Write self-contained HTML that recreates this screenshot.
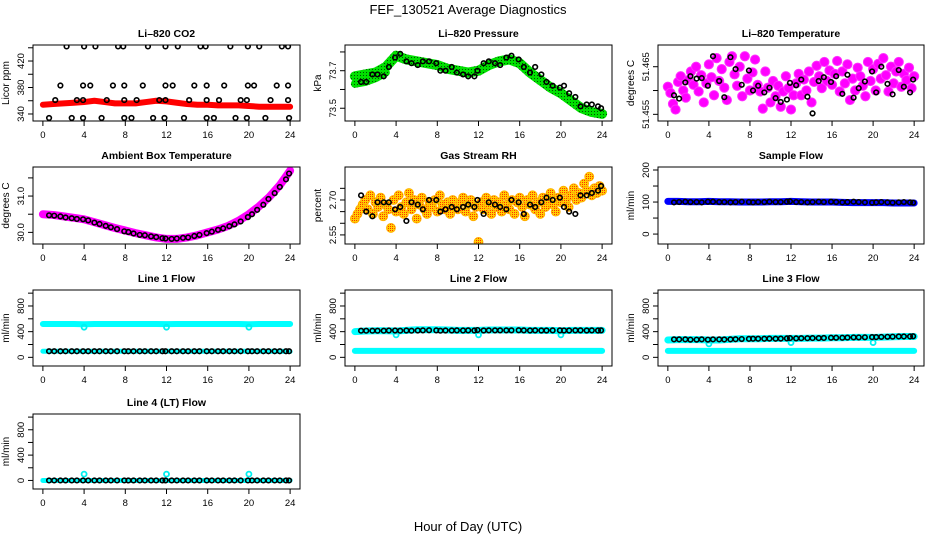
<!DOCTYPE html>
<html><head><meta charset="utf-8">
<style>
html,body{margin:0;padding:0;background:#fff;}
svg{display:block;font-family:"Liberation Sans",sans-serif;}
</style></head>
<body>
<svg id="chart" width="936" height="540" viewBox="0 0 936 540" xmlns="http://www.w3.org/2000/svg">
<defs>
<pattern id="pGreen" width="3" height="3" patternUnits="userSpaceOnUse"><rect width="3" height="3" fill="#00e000"/><rect width="1" height="1" fill="#005000"/></pattern>
<pattern id="pOrange" width="2" height="2" patternUnits="userSpaceOnUse"><rect width="2" height="2" fill="#ffd000"/><rect width="1" height="1" fill="#ff3000"/></pattern>
</defs>
<text x="468" y="14" text-anchor="middle" font-size="13">FEF_130521  Average Diagnostics</text>
<text x="468" y="531" text-anchor="middle" font-size="13">Hour of Day (UTC)</text>
</svg>
<script>
// ---- data ----
const xTicks = [0,4,8,12,16,20,24];
const bandHours = [0,1,2,3,4,5,6,7,8,9,10,11,12,13,14,15,16,17,18,19,20,21,22,23,24];
const blackHours = [0.6,1.1,1.7,2.2,2.8,3.3,3.9,4.4,5.0,5.5,6.1,6.6,7.2,7.9,8.3,8.8,9.4,9.9,10.5,11.0,11.6,11.9,12.5,13.0,13.6,14.1,14.7,15.2,15.9,16.4,17.0,17.5,18.1,18.6,19.2,19.9,20.3,20.8,21.4,21.9,22.5,23.0,23.6,23.9];

const co2Band = [354,355,356,357,358,360,358,356,356,356,358,360,359,357,355,354,354,353,353,353,352,351,351,351,351];
const co2TopHours = [2.3,4.0,5.1,7.3,7.8,10.2,11.9,13.1,15.3,15.8,18.2,19.9,21.0,23.2,23.8];
const co2HighHours = [1.7,3.9,4.6,6.8,7.9,9.7,11.9,12.6,14.7,15.9,17.6,19.9,20.5,22.7,23.8];
const co2MidHours = [1.2,3.3,3.9,6.2,7.9,9.1,11.3,11.9,14.2,15.9,17.1,19.2,19.8,22.1,23.8];
const co2LowHours = [0.6,2.8,3.9,5.7,7.9,8.6,10.7,11.8,13.7,15.9,16.6,18.7,19.8,21.6,23.9];
const co2Levels = [442,383,361,334];

const pressBand = [73.67,73.68,73.69,73.72,73.78,73.76,73.75,73.74,73.73,73.71,73.70,73.69,73.70,73.73,73.75,73.76,73.74,73.69,73.65,73.61,73.58,73.54,73.50,73.48,73.47];
const pressBand2Hours = [0,1,2,3];
const pressBand2 = [73.63,73.64,73.66,73.69];
const pressBlack = [73.64,73.64,73.68,73.68,73.67,73.72,73.77,73.79,73.75,73.74,73.73,73.75,73.75,73.74,73.70,73.70,73.72,73.69,73.68,73.67,73.67,73.70,73.74,73.75,73.74,73.73,73.77,73.78,73.76,73.72,73.69,73.72,73.68,73.64,73.62,73.61,73.62,73.58,73.56,73.51,73.52,73.52,73.51,73.50];

const tempScatter = [51.4608,51.4595,51.4572,51.4560,51.4618,51.4630,51.4600,51.4585,51.4622,51.4640,51.4612,51.4650,51.4598,51.4632,51.4575,51.4615,51.4655,51.4628,51.4590,51.4668,
51.4620,51.4645,51.4606,51.4580,51.4660,51.4672,51.4634,51.4610,51.4650,51.4588,51.4672,51.4625,51.4600,51.4638,51.4665,51.4612,51.4598,51.4562,51.4640,51.4606,
51.4575,51.4620,51.4588,51.4610,51.4566,51.4598,51.4630,51.4605,51.4560,51.4590,51.4615,51.4635,51.4590,51.4623,51.4600,51.4640,51.4575,51.4618,51.4652,51.4630,
51.4605,51.4660,51.4620,51.4642,51.4612,51.4635,51.4662,51.4598,51.4640,51.4615,51.4655,51.4580,51.4625,51.4600,51.4648,51.4630,51.4610,51.4588,51.4660,51.4620,
51.4645,51.4600,51.4656,51.4625,51.4668,51.4632,51.4598,51.4650,51.4615,51.4640,51.4660,51.4608,51.4635,51.4622,51.4648,51.4605,51.4630];
const tempBlack = [51.4590,51.4583,51.4617,51.4630,51.4625,51.4626,51.4610,51.4672,51.4620,51.4586,51.4670,51.4645,51.4612,51.4642,51.4600,51.4610,51.4596,51.4606,51.4584,51.4576,51.4581,51.4616,51.4611,51.4623,51.4587,51.4552,51.4620,51.4628,51.4618,51.4630,51.4593,51.4633,51.4585,51.4605,51.4619,51.4640,51.4596,51.4650,51.4614,51.4592,51.4643,51.4608,51.4596,51.4623];

const ambBand = [30.50,30.48,30.44,30.40,30.36,30.28,30.20,30.12,30.05,29.98,29.92,29.86,29.82,29.82,29.86,29.92,30.00,30.08,30.18,30.32,30.50,30.72,30.98,31.30,31.70];
const ambBlack = [30.47,30.46,30.44,30.41,30.39,30.37,30.36,30.33,30.27,30.23,30.18,30.14,30.09,30.03,30.01,29.97,29.93,29.92,29.89,29.87,29.84,29.83,29.82,29.83,29.85,29.86,29.90,29.93,29.98,30.02,30.07,30.11,30.17,30.22,30.30,30.42,30.50,30.62,30.76,30.92,31.08,31.25,31.46,31.62];

const rhScatter = [2.62,2.64,2.66,2.68,2.70,2.66,2.72,2.64,2.69,2.67,2.71,2.63,2.68,2.66,2.58,2.70,2.65,2.72,2.67,2.64,
2.69,2.73,2.66,2.70,2.62,2.68,2.71,2.66,2.64,2.69,2.67,2.70,2.65,2.72,2.68,2.66,2.69,2.64,2.70,2.67,
2.66,2.69,2.71,2.65,2.68,2.70,2.63,2.67,2.52,2.69,2.66,2.71,2.68,2.64,2.70,2.67,2.69,2.65,2.72,2.68,
2.66,2.70,2.64,2.69,2.71,2.67,2.63,2.70,2.68,2.72,2.66,2.69,2.64,2.71,2.67,2.70,2.73,2.68,2.65,2.71,
2.69,2.74,2.70,2.67,2.72,2.75,2.70,2.73,2.71,2.77,2.74,2.80,2.72,2.75,2.73,2.76,2.74];
const rhBlack = [2.72,2.65,2.63,2.69,2.69,2.69,2.66,2.67,2.61,2.69,2.68,2.66,2.70,2.70,2.65,2.66,2.67,2.66,2.67,2.68,2.67,2.70,2.64,2.69,2.68,2.67,2.66,2.70,2.69,2.64,2.68,2.67,2.69,2.71,2.70,2.71,2.67,2.65,2.64,2.72,2.72,2.73,2.74,2.76];

const sampleBand = [102,102,101,101,102,101,101,100,100,100,101,101,102,101,100,100,100,99,98,98,98,98,97,97,97];
const sampleBlack = [99,100,101,100,100,99,101,101,100,100,99,100,101,100,99,100,100,101,100,100,101,102,100,100,99,100,101,100,101,100,99,100,101,100,99,98,99,100,99,98,99,100,99,98];

const l1CyanHigh = [520,520,520,520,515,520,520,520,520,520,520,520,518,520,520,520,520,520,520,520,515,520,520,520,520];
const l1CyanLow = [95,95,95,95,95,95,95,95,95,95,95,95,95,95,95,95,95,95,95,95,95,95,95,95,90];
const l1Black = [95,95,95,95,95,95,95,95,95,95,95,95,95,95,95,95,95,95,95,95,95,95,95,95,95,95,95,95,95,95,95,95,95,95,95,95,95,95,95,95,95,95,95,95];
const spikeHours = [4,12,20];
const l1Spikes = [470,470,470];

const l2CyanHigh = [400,410,415,415,410,420,430,430,430,425,420,420,420,425,425,425,425,420,420,420,415,420,420,420,420];
const l2CyanLow = [100,100,100,100,100,100,100,100,100,100,100,100,100,100,100,100,100,100,100,100,100,100,100,100,100];
const l2Black = [415,415,415,415,415,418,418,415,418,415,418,420,422,420,415,418,418,420,418,420,418,425,418,420,420,420,420,420,422,420,418,420,418,418,420,420,418,418,420,420,418,420,418,420];
const l2Spikes = [350,350,350];

const l3CyanHigh = [270,275,275,275,270,270,280,290,290,290,295,295,295,295,300,300,305,305,310,310,310,315,320,325,325];
const l3CyanLow = [100,100,100,100,100,100,100,100,100,100,100,100,100,100,100,100,100,100,100,100,100,100,100,100,100];
const l3Black = [280,280,280,275,275,280,275,280,280,278,280,282,285,288,290,290,290,292,290,292,295,300,295,298,298,300,300,302,305,305,305,308,310,310,312,315,315,318,320,322,325,325,325,328];
const l3Spikes = [210,230,230];

const l4Cyan = [0,0,0,0,0,0,0,0,0,0,0,0,0,0,0,0,0,0,0,0,0,0,0,0,0];
const l4Black = [0,0,0,0,0,0,0,0,0,0,0,0,0,0,0,0,0,0,0,0,0,0,0,0,0,0,0,0,0,0,0,0,0,0,0,0,0,0,0,0,0,0,0,0];
const l4Spikes = [100,100,100];

// ---- drawing ----
const svg = document.getElementById('chart');
const NS = 'http://www.w3.org/2000/svg';
function mk(tag, attrs, parent){
  const e = document.createElementNS(NS, tag);
  for (const k in attrs) e.setAttribute(k, attrs[k]);
  (parent||svg).appendChild(e);
  return e;
}
const cols = [[33,300],[345,612],[658,924]];
const rows = [[45,121],[167,244],[290,366],[414,489]];

function panel(cfg){
  const [x0,x1] = cols[cfg.c], [y0,y1] = rows[cfg.r];
  const xmin = -0.96, xmax = 24.96;
  const sx = h => x0 + (h - xmin) / (xmax - xmin) * (x1 - x0);
  const sy = v => y1 - (v - cfg.ymin) / (cfg.ymax - cfg.ymin) * (y1 - y0);
  const g = mk('g', {});
  
  
  const clip = mk('clipPath', {id: 'clip-' + cfg.name}, g);
  mk('rect', {x: x0, y: y0, width: x1 - x0, height: y1 - y0}, clip);
  const t = mk('text', {x: (x0 + x1) / 2, y: y0 - 8, 'text-anchor': 'middle', 'font-size': 10.5, 'font-weight': 'bold'}, g);
  t.textContent = cfg.title;
  
  
  const yt = mk('text', {transform: `translate(${x0 - 24},${(y0 + y1) / 2}) rotate(-90)`, 'text-anchor': 'middle', 'font-size': 10}, g);
  yt.textContent = cfg.ylab;
  
  
  const marks = mk('g', {'clip-path': `url(#clip-${cfg.name})`}, g);
  
  
  (cfg.bands || []).forEach(b => {
    const pts = b.v.map((v, i) => sx(b.h[i]) + ',' + sy(v)).join(' ');
    const pl = mk('polyline', {points: pts, fill: 'none', stroke: b.color, 'stroke-width': b.w, 'stroke-linejoin': 'round', 'stroke-linecap': 'round'}, marks);
    
    
  });
  (cfg.scatters || []).forEach(s => {
    s.v.forEach((v, i) => {
      const h = s.h ? s.h[i] : i * 24 / (s.v.length - 1);
      const c = mk('circle', {cx: sx(h), cy: sy(v), r: s.r, fill: s.fill, stroke: s.stroke, 'stroke-width': s.sw}, marks);
      
      
    });
  });
  const box = mk('rect', {x: x0, y: y0, width: x1 - x0, height: y1 - y0, fill: 'none', stroke: '#000', 'stroke-width': 1}, g);
  
  
  mk('line', {x1: sx(0), x2: sx(24), y1: y1, y2: y1, stroke: '#000'}, g);
  xTicks.forEach(h => {
    mk('line', {x1: sx(h), x2: sx(h), y1: y1, y2: y1 + 5, stroke: '#000'}, g);
    const l = mk('text', {x: sx(h), y: y1 + 17, 'text-anchor': 'middle', 'font-size': 9.5}, g);
    l.textContent = h;
    
    
  });
  const yt0 = cfg.yticks[0], ytn = cfg.yticks[cfg.yticks.length - 1];
  mk('line', {x1: x0, x2: x0, y1: sy(yt0), y2: sy(ytn), stroke: '#000'}, g);
  cfg.yticks.forEach(v => mk('line', {x1: x0, x2: x0 - 5, y1: sy(v), y2: sy(v), stroke: '#000'}, g));
  cfg.ylabels.forEach(v => {
    const l = mk('text', {transform: `translate(${x0 - 9},${sy(v)}) rotate(-90)`, 'text-anchor': 'middle', 'font-size': 9.5}, g);
    l.textContent = v;
    
    
  });
}
const BLK = (v, h) => ({h: h || blackHours, v: v, r: 2.3, fill: 'none', stroke: '#000', sw: 1.6});
const CY = (v, h) => ({h: h, v: v, r: 2.5, fill: 'none', stroke: '#00f0f0', sw: 1.8});

panel({name:'co2', title:'Li\u2013820 CO2', ylab:'Licor ppm', c:0, r:0, ymin:329.4, ymax:444.2,
  yticks:[340,360,380,400,420,440], ylabels:['340','380','420'],
  bands:[{h:bandHours, v:co2Band, color:'#ff0000', w:6}],
  scatters:[BLK(co2TopHours.map(()=>co2Levels[0]), co2TopHours), BLK(co2HighHours.map(()=>co2Levels[1]), co2HighHours),
            BLK(co2MidHours.map(()=>co2Levels[2]), co2MidHours), BLK(co2LowHours.map(()=>co2Levels[3]), co2LowHours)]});
panel({name:'pressure', title:'Li\u2013820 Pressure', ylab:'kPa', c:1, r:0, ymin:73.432, ymax:73.837,
  yticks:[73.5,73.6,73.7,73.8], ylabels:['73.5','73.7'],
  bands:[{h:bandHours, v:pressBand, color:'url(#pGreen)', w:10},{h:pressBand2Hours, v:pressBand2, color:'url(#pGreen)', w:8}],
  scatters:[BLK(pressBlack)]});
panel({name:'li820-temperature', title:'Li\u2013820 Temperature', ylab:'degrees C', c:2, r:0, ymin:51.4536, ymax:51.46956,
  yticks:[51.455,51.46,51.465], ylabels:['51.455','51.465'],
  scatters:[{v:tempScatter, r:4.6, fill:'#ff00ff', stroke:'#ff30ff', sw:1}, BLK(tempBlack)]});
panel({name:'ambient-temperature', title:'Ambient Box Temperature', ylab:'degrees C', c:0, r:1, ymin:29.68, ymax:31.8,
  yticks:[30.0,30.5,31.0,31.5], ylabels:['30.0','31.0'],
  bands:[{h:bandHours, v:ambBand, color:'#ff00ff', w:8}],
  scatters:[BLK(ambBlack)]});
panel({name:'gas-rh', title:'Gas Stream RH', ylab:'percent', c:1, r:1, ymin:2.511, ymax:2.8416,
  yticks:[2.55,2.60,2.65,2.70,2.75], ylabels:['2.55','2.70'],
  scatters:[{v:rhScatter, r:4.4, fill:'url(#pOrange)', stroke:'#ffb000', sw:1}, BLK(rhBlack)]});
panel({name:'sample-flow', title:'Sample Flow', ylab:'ml/min', c:2, r:1, ymin:-31, ymax:209.4,
  yticks:[0,50,100,150,200], ylabels:['0','100','200'],
  bands:[{h:bandHours, v:sampleBand, color:'#0000ff', w:7}],
  scatters:[BLK(sampleBlack)]});
panel({name:'line1-flow', title:'Line 1 Flow', ylab:'ml/min', c:0, r:2, ymin:-135, ymax:1049,
  yticks:[0,200,400,600,800,1000], ylabels:['0','400','800'],
  bands:[{h:bandHours, v:l1CyanHigh, color:'#00ffff', w:6},{h:bandHours, v:l1CyanLow, color:'#00ffff', w:5}],
  scatters:[CY(l1Spikes, spikeHours), BLK(l1Black)]});
panel({name:'line2-flow', title:'Line 2 Flow', ylab:'ml/min', c:1, r:2, ymin:-135, ymax:1049,
  yticks:[0,200,400,600,800,1000], ylabels:['0','400','800'],
  bands:[{h:bandHours, v:l2CyanHigh, color:'#00ffff', w:7},{h:bandHours, v:l2CyanLow, color:'#00ffff', w:6}],
  scatters:[CY(l2Spikes, spikeHours), BLK(l2Black)]});
panel({name:'line3-flow', title:'Line 3 Flow', ylab:'ml/min', c:2, r:2, ymin:-135, ymax:1049,
  yticks:[0,200,400,600,800,1000], ylabels:['0','400','800'],
  bands:[{h:bandHours, v:l3CyanHigh, color:'#00ffff', w:7},{h:bandHours, v:l3CyanLow, color:'#00ffff', w:6}],
  scatters:[CY(l3Spikes, spikeHours), BLK(l3Black)]});
panel({name:'line4-flow', title:'Line 4 (LT) Flow', ylab:'ml/min', c:0, r:3, ymin:-135, ymax:1049,
  yticks:[0,200,400,600,800,1000], ylabels:['0','400','800'],
  bands:[{h:bandHours, v:l4Cyan, color:'#00ffff', w:5}],
  scatters:[CY(l4Spikes, spikeHours), BLK(l4Black)]});
</script>
</body></html>
